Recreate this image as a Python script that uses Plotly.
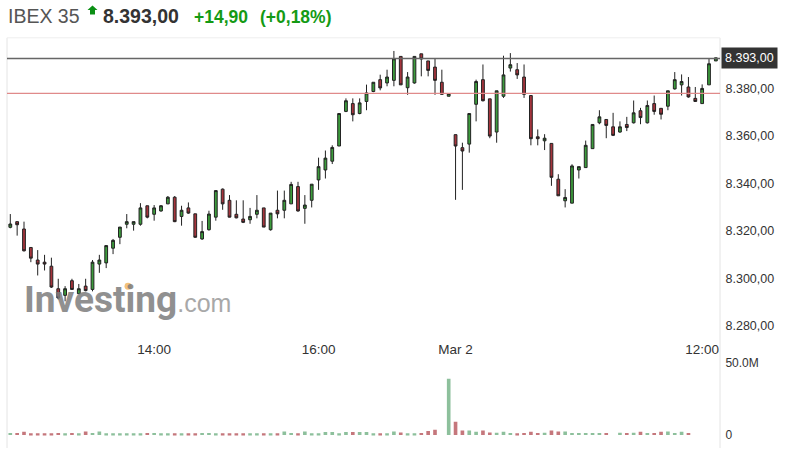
import plotly.graph_objects as go

W, H = 795, 456

opens = [8321.5,8323.9,8320.8,8313.0,8307.7,8306.8,8305.1,8295.6,8292.8,8299.0,
         8293.5,8296.7,8295.3,8306.0,8306.5,8312.7,8317.3,8322.8,8322.8,8322.8,
         8330.6,8327.0,8328.4,8331.4,8334.2,8326.1,8329.7,8327.2,8316.6,8320.5,
         8325.8,8337.6,8332.9,8327.0,8325.0,8324.7,8327.0,8329.7,8320.5,8328.7,
         8328.7,8331.4,8338.7,8329.5,8332.9,8341.5,8345.7,8349.4,8355.8,8370.4,
         8373.7,8369.5,8374.6,8378.8,8383.8,8382.4,8383.5,8393.6,8380.4,8382.4,
         8394.7,8391.7,8389.1,8382.7,8376.8,8360.6,8355.1,8356.6,8373.4,8383.8,
         8375.7,8361.7,8376.8,8388.7,8388.0,8384.9,8377.1,8359.7,8358.0,8356.9,
         8341.8,8332.7,8331.7,8345.7,8346.7,8354.7,8365.6,8367.0,8363.9,8361.7,
         8364.9,8365.6,8370.7,8365.6,8373.7,8371.7,8372.6,8379.9,8381.6,8380.7,
         8375.9,8373.7,8381.6,8391.7]
highs = [8327.1,8323.9,8323.9,8313.0,8311.9,8309.9,8308.7,8299.8,8296.7,8299.8,
         8297.6,8299.8,8307.7,8309.9,8313.8,8316.6,8321.6,8327.1,8323.9,8331.7,
         8330.6,8330.9,8330.9,8334.7,8334.7,8330.6,8332.0,8327.2,8324.2,8328.5,
         8337.0,8337.9,8335.1,8332.9,8332.9,8329.7,8335.1,8329.7,8327.5,8337.0,
         8337.0,8340.7,8340.7,8335.1,8339.7,8350.9,8353.9,8356.1,8369.5,8375.9,
         8375.9,8375.9,8381.7,8382.7,8385.9,8388.0,8395.9,8393.6,8387.0,8393.6,
         8394.7,8391.7,8392.9,8388.0,8377.9,8360.6,8357.2,8369.5,8383.8,8390.2,
         8375.7,8379.1,8393.9,8395.0,8390.8,8390.2,8377.1,8362.8,8360.8,8356.9,
         8343.9,8337.6,8348.1,8347.1,8358.1,8364.9,8370.9,8367.0,8369.8,8366.2,
         8368.1,8375.0,8371.9,8375.0,8377.1,8371.7,8379.1,8387.0,8386.0,8384.9,
         8380.7,8381.8,8392.9,8392.6]
lows = [8321.1,8318.0,8311.3,8306.8,8301.2,8303.3,8295.9,8291.1,8290.3,8295.3,
        8293.5,8294.5,8294.5,8302.3,8304.3,8310.2,8314.4,8321.1,8320.1,8322.2,
        8325.3,8324.3,8328.1,8331.3,8323.7,8322.2,8327.2,8317.1,8316.2,8320.1,
        8324.3,8328.9,8325.7,8325.3,8323.3,8323.0,8325.3,8321.6,8320.1,8325.3,
        8325.3,8331.4,8328.1,8323.0,8329.9,8337.3,8342.1,8348.2,8355.8,8370.1,
        8366.2,8369.2,8370.9,8378.5,8379.3,8381.0,8381.0,8381.6,8377.4,8382.1,
        8385.2,8385.2,8377.4,8377.4,8376.8,8333.1,8337.3,8353.0,8366.2,8374.6,
        8359.1,8357.2,8376.1,8387.2,8384.1,8376.1,8356.1,8356.1,8354.1,8339.0,
        8334.8,8329.9,8331.7,8342.1,8346.7,8354.7,8365.0,8359.1,8360.0,8361.4,
        8362.1,8365.3,8365.0,8365.3,8369.0,8367.0,8370.9,8379.6,8377.1,8376.2,
        8374.6,8373.7,8381.6,8391.7]
closes = [8322.9,8322.6,8311.6,8308.5,8306.0,8306.0,8296.3,8291.7,8295.6,8295.3,
          8295.6,8294.8,8306.8,8307.7,8313.8,8316.0,8321.6,8323.9,8323.9,8329.7,
          8325.8,8329.7,8330.6,8334.2,8323.9,8328.7,8327.5,8317.3,8319.7,8327.1,
          8337.0,8331.4,8325.8,8325.5,8323.6,8326.1,8328.7,8321.6,8327.5,8327.2,
          8332.9,8339.6,8328.4,8330.9,8339.7,8347.1,8350.7,8355.2,8369.5,8374.9,
          8369.0,8374.0,8378.2,8382.7,8380.3,8384.9,8392.6,8381.6,8384.9,8393.6,
          8392.5,8387.7,8383.5,8377.6,8377.9,8355.8,8353.7,8369.5,8383.0,8374.9,
          8360.0,8379.1,8385.8,8390.1,8385.8,8377.6,8358.9,8358.9,8359.1,8342.6,
          8334.8,8334.1,8347.4,8347.1,8356.1,8364.9,8368.1,8364.5,8360.3,8363.9,
          8363.6,8369.8,8367.8,8372.9,8370.4,8369.2,8379.1,8383.8,8383.0,8376.5,
          8374.6,8380.1,8390.5,8393.0]
volumes = [1.4,1.4,2.3,1.3,1.3,1.3,1.3,1.4,1.3,1.4,
           1.3,2.4,1.4,2.4,1.3,1.3,1.3,1.3,1.3,1.3,
           1.4,1.4,1.3,1.3,1.3,1.3,1.3,1.3,1.4,1.4,
           1.3,1.3,1.3,1.3,1.3,1.3,1.3,1.3,1.3,1.3,
           2.4,1.5,1.3,2.4,1.3,1.3,2.2,2.2,1.3,2.2,
           2.2,2.2,2.2,1.3,1.3,1.3,2.4,1.8,1.2,1.2,
           1.4,2.8,3.7,0,38.7,9.2,3.2,3.2,2.3,3.2,
           1.8,1.6,2.3,1.4,1.2,1.4,2.3,1.4,1.6,3.2,
           2.5,2.5,1.4,1.4,1.4,1.4,1.4,1.4,0,1.6,
           1.4,1.6,2.3,1.4,1.4,2.3,2.5,1.4,2.3,1.4,
           0,0,0,0]

price_ticks = [8380, 8360, 8340, 8320, 8300, 8280]
price_labels = ["8.380,00", "8.360,00", "8.340,00", "8.320,00", "8.300,00", "8.280,00"]
time_ticks = [21, 45, 65, 101]
time_labels = ["14:00", "16:00", "Mar 2", "12:00"]
volume_ticks = [0, 50]
volume_labels = ["0", "50.0M"]
last_price = 8392.7
prev_close = 8378.0

FONT = "Liberation Sans"
GREEN, RED = "#3c9c3c", "#a5343c"
VGREEN, VRED = "#8dc09c", "#c5777c"

def py(px):
    return 1 - px / H

def px_x(px):
    return px / W

index = list(range(len(opens)))
fig = go.Figure()
fig.add_trace(go.Candlestick(
    x=index, open=opens, high=highs, low=lows, close=closes,
    xaxis="x", yaxis="y", whiskerwidth=0,
    increasing=dict(fillcolor=GREEN, line=dict(color="#222222", width=1)),
    decreasing=dict(fillcolor=RED, line=dict(color="#222222", width=1)),
    showlegend=False,
))
fig.add_trace(go.Bar(
    x=index, y=volumes, xaxis="x2", yaxis="y2",
    marker=dict(color=[VGREEN if c >= o else VRED for o, c in zip(opens, closes)], line_width=0),
    showlegend=False,
))

x_range = [(7 - 10.3) / 6.85, (720 - 10.3) / 6.85]
fig.update_layout(
    width=W, height=H, margin=dict(l=0, r=0, t=0, b=0),
    paper_bgcolor="white", plot_bgcolor="white", bargap=0.47, boxgap=0.42,
    font=dict(family=FONT, size=12, color="#333333"),
    xaxis=dict(domain=[px_x(7), px_x(720)], range=x_range, anchor="y",
               rangeslider=dict(visible=False), showgrid=False, zeroline=False,
               tickmode="array", tickvals=time_ticks, ticktext=time_labels,
               tickfont=dict(size=13.5, color="#333333"),
               ticks="outside", ticklen=3, tickcolor="rgba(0,0,0,0)"),
    yaxis=dict(domain=[py(335), py(38)], range=[8417.4 - 0.42 * 335, 8417.4 - 0.42 * 38],
               anchor="x", side="right", showgrid=False, zeroline=False,
               tickmode="array", tickvals=price_ticks, ticktext=price_labels,
               tickfont=dict(size=12.5),
               ticks="outside", ticklen=2, tickcolor="rgba(0,0,0,0)"),
    xaxis2=dict(domain=[px_x(7), px_x(720)], range=x_range, anchor="y2",
                showgrid=False, zeroline=False, showticklabels=False, ticks=""),
    yaxis2=dict(domain=[py(442), py(357)], range=[-3.4, 54.8], anchor="x2", side="right",
                showgrid=False, zeroline=False, tickmode="array",
                tickvals=volume_ticks, ticktext=volume_labels,
                ticks="outside", ticklen=2, tickcolor="rgba(0,0,0,0)"),
)

frame = "#e4e4e4"
shapes = [
    dict(type="line", xref="paper", yref="paper", x0=px_x(7), x1=px_x(7), y0=py(450), y1=py(38),
         line=dict(color=frame, width=1)),
    dict(type="line", xref="paper", yref="paper", x0=px_x(720), x1=px_x(720), y0=py(450), y1=py(38),
         line=dict(color=frame, width=1)),
    dict(type="line", xref="paper", yref="paper", x0=px_x(7), x1=px_x(720), y0=py(38), y1=py(38),
         line=dict(color="#eeeeee", width=1)),
    dict(type="line", xref="x", yref="y", x0=x_range[0], x1=x_range[1], y0=last_price, y1=last_price,
         line=dict(color="#666666", width=1.4)),
    dict(type="line", xref="x", yref="y", x0=x_range[0], x1=x_range[1], y0=prev_close, y1=prev_close,
         line=dict(color="#e08a8a", width=1.4)),
    # header arrow
    dict(type="path", xref="paper", yref="paper", line_width=0, fillcolor="#0a8f14",
         path=f"M {px_x(92.5)} {py(5.5)} L {px_x(97.5)} {py(10)} L {px_x(95)} {py(10)} "
              f"L {px_x(95)} {py(14.5)} L {px_x(90)} {py(14.5)} L {px_x(90)} {py(10)} "
              f"L {px_x(87.5)} {py(10)} Z"),
    # orange dot of the watermark
    dict(type="circle", xref="paper", yref="paper", line_width=0, fillcolor="#f3c27a",
         x0=px_x(124.5), x1=px_x(131.5), y0=py(291), y1=py(284)),
]
fig.update_layout(shapes=shapes)

def label(text, x, y, size, color, family=FONT, xanchor="left", **kw):
    fig.add_annotation(text=text, x=px_x(x), y=py(y), xref="paper", yref="paper",
                       xanchor=xanchor, yanchor="middle", showarrow=False,
                       font=dict(family=family, size=size, color=color), borderpad=0, **kw)

label("IBEX 35", 7, 16.5, 19.5, "#555555")
label("<b>8.393,00</b>", 102, 16.5, 19.5, "#333333")
label("<b>+14,90</b>", 193, 17, 17.5, "#149a14")
label("<b>(+0,18%)</b>", 259, 17, 17.5, "#149a14")
label("<b>Investing</b><span style='font-size:25px;color:#9a9a9a;font-family:Liberation Sans'>.com</span>",
      23, 301, 37, "#7d7d7d", family="Roboto", opacity=0.85)
fig.add_annotation(text="8.393,00", x=px_x(720.5), y=py(58.5), xref="paper", yref="paper",
                   xanchor="left", yanchor="middle", showarrow=False, bgcolor="#333333",
                   font=dict(family=FONT, size=12.5, color="white"), borderpad=3)

fig.write_html("out.html", config={"displayModeBar": False},
               post_script="document.body.style.margin='0';")
